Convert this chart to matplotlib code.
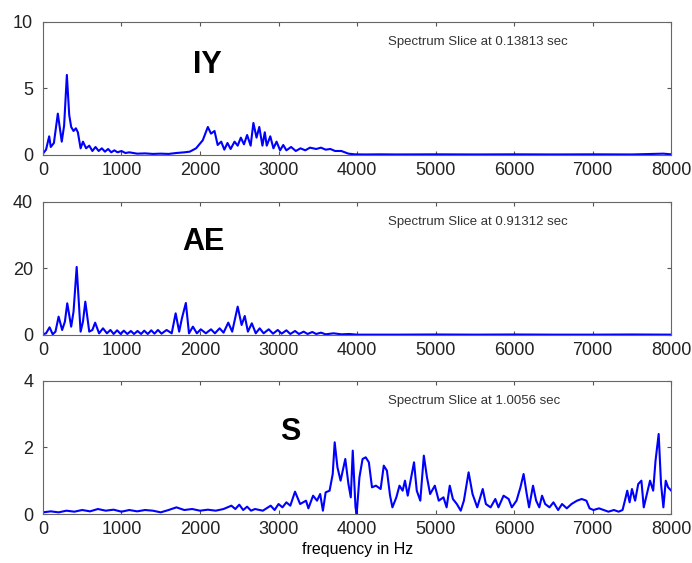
import matplotlib.pyplot as plt

plt.rcParams['font.family'] = ['Liberation Sans', 'DejaVu Sans']

# --- IY slice (0.13813 sec) ---
iy_freq = [0, 40, 80, 100, 140, 190, 240, 270, 305, 335, 360, 390, 420, 445, 480,
           510, 550, 590, 630, 670, 710, 750, 790, 830, 870, 910, 950, 1000, 1050,
           1100, 1200, 1300, 1400, 1500, 1600, 1700, 1800, 1870, 1950, 2035, 2100,
           2140, 2185, 2225, 2270, 2310, 2350, 2390, 2440, 2480, 2520, 2560, 2600,
           2645, 2680, 2720, 2755, 2795, 2825, 2850, 2895, 2935, 2975, 3020, 3060,
           3100, 3160, 3220, 3280, 3340, 3400, 3480, 3540, 3600, 3660, 3720, 3800,
           3890, 3970, 4100, 4300, 4500, 5000, 5500, 6000, 6500, 7000, 7500, 7900, 8000]
iy_amp = [0.1, 0.4, 1.4, 0.6, 0.9, 3.1, 1.0, 2.2, 6.0, 3.0, 2.1, 1.8, 2.0, 1.7, 0.5,
          1.0, 0.5, 0.7, 0.3, 0.6, 0.3, 0.5, 0.25, 0.45, 0.2, 0.35, 0.2, 0.3, 0.15,
          0.2, 0.1, 0.12, 0.08, 0.1, 0.08, 0.15, 0.2, 0.25, 0.5, 1.1, 2.1,
          1.6, 1.8, 0.75, 1.0, 0.4, 0.9, 0.45, 1.0, 0.7, 1.3, 0.8, 1.5,
          0.7, 2.4, 1.3, 2.1, 0.7, 1.7, 0.7, 1.4, 0.5, 1.0, 0.35, 0.75,
          0.35, 0.6, 0.3, 0.5, 0.35, 0.55, 0.45, 0.55, 0.4, 0.45, 0.3, 0.3,
          0.1, 0.05, 0.04, 0.05, 0.04, 0.05, 0.04, 0.05, 0.04, 0.05, 0.04, 0.1, 0.05]

# --- AE slice (0.91312 sec) ---
ae_freq = [0, 40, 85, 125, 160, 200, 245, 280, 310, 360, 390, 430, 480, 510, 540,
           590, 630, 665, 715, 765, 815, 860, 900, 945, 990, 1030, 1075, 1120, 1160,
           1205, 1250, 1290, 1335, 1380, 1420, 1465, 1510, 1575, 1640, 1690, 1735,
           1770, 1820, 1860, 1910, 1960, 2010, 2075, 2140, 2190, 2250, 2300, 2360,
           2410, 2480, 2530, 2570, 2610, 2660, 2710, 2760, 2810, 2875, 2930, 2990,
           3040, 3100, 3150, 3210, 3260, 3320, 3370, 3430, 3480, 3540, 3600, 3700,
           3800, 3900, 4000, 4500, 5000, 5500, 6000, 6500, 7000, 7500, 8000]
ae_amp = [0.2, 0.5, 2.3, 0.2, 1.0, 5.5, 1.5, 4.0, 9.5, 2.5, 7.0, 20.4, 1.0, 4.0, 10.0,
          1.0, 1.5, 3.7, 0.5, 2.0, 0.5, 1.5, 0.3, 1.4, 0.3, 1.3, 0.3, 1.2, 0.3,
          1.2, 0.3, 1.3, 0.3, 1.4, 0.4, 1.5, 0.4, 1.5, 0.5, 6.5, 1.0,
          5.0, 9.6, 0.5, 2.5, 0.5, 1.7, 0.5, 1.7, 0.5, 2.0, 0.7, 3.7,
          1.0, 8.5, 3.0, 5.7, 1.0, 3.5, 0.5, 2.0, 0.5, 1.7, 0.4, 1.5,
          0.4, 1.4, 0.3, 1.2, 0.3, 1.0, 0.3, 0.9, 0.3, 0.7, 0.2, 0.5,
          0.2, 0.3, 0.1, 0.1, 0.15, 0.1, 0.15, 0.1, 0.1, 0.15, 0.1]

# --- S slice (1.0056 sec) ---
s_freq = [0, 100, 200, 300, 400, 500, 600, 700, 800, 900, 1000, 1100, 1200, 1300,
          1400, 1500, 1600, 1700, 1800, 1900, 2000, 2100, 2200, 2300, 2400, 2450,
          2500, 2550, 2600, 2650, 2700, 2800, 2900, 2950, 3000, 3050, 3100, 3150,
          3210, 3275, 3350, 3380, 3440, 3490, 3530, 3565, 3600, 3650, 3690, 3715,
          3750, 3790, 3850, 3890, 3920, 3945, 3980, 3995, 4030, 4070, 4110, 4150,
          4190, 4240, 4300, 4340, 4380, 4420, 4450, 4500, 4540, 4580, 4610, 4645,
          4725, 4760, 4805, 4850, 4890, 4930, 4990, 5040, 5100, 5140, 5180, 5220,
          5270, 5320, 5360, 5420, 5470, 5530, 5600, 5640, 5700, 5760, 5800, 5865,
          5930, 5970, 6030, 6080, 6120, 6160, 6190, 6240, 6280, 6320, 6355, 6395,
          6450, 6500, 6560, 6610, 6670, 6730, 6800, 6860, 6920, 6960, 7010, 7080,
          7140, 7200, 7270, 7330, 7380, 7410, 7440, 7470, 7500, 7540, 7580, 7620,
          7650, 7690, 7730, 7770, 7800, 7840, 7870, 7900, 7930, 7960, 8000]
s_amp = [0.05, 0.08, 0.05, 0.1, 0.07, 0.12, 0.08, 0.15, 0.1, 0.13, 0.07, 0.12, 0.08, 0.12,
         0.1, 0.05, 0.12, 0.2, 0.12, 0.15, 0.1, 0.13, 0.1, 0.15, 0.25, 0.15,
         0.28, 0.12, 0.22, 0.1, 0.15, 0.1, 0.25, 0.12, 0.3, 0.2, 0.35, 0.25,
         0.67, 0.3, 0.4, 0.17, 0.55, 0.4, 0.6, 0.1, 0.65, 0.7, 1.2, 2.15,
         1.4, 1.0, 1.65, 0.9, 0.5, 1.9, 0.2, 0.0, 1.1, 1.65, 1.7, 1.55,
         0.8, 0.85, 0.75, 1.45, 1.3, 0.55, 0.2, 0.5, 0.85, 0.7, 1.0, 0.55,
         1.55, 0.7, 0.4, 1.75, 1.1, 0.6, 0.85, 0.4, 0.5, 0.2, 0.85, 0.45,
         0.3, 0.1, 0.4, 1.25, 0.6, 0.2, 0.75, 0.3, 0.2, 0.45, 0.2, 0.55,
         0.45, 0.2, 0.4, 0.8, 1.2, 0.6, 0.2, 0.85, 0.4, 0.2, 0.55, 0.3,
         0.2, 0.35, 0.12, 0.3, 0.17, 0.3, 0.4, 0.45, 0.4, 0.17, 0.12, 0.17,
         0.12, 0.07, 0.12, 0.07, 0.12, 0.4, 0.7, 0.35, 0.75, 0.4, 0.9, 1.0,
         0.2, 0.6, 1.0, 0.7, 1.6, 2.4, 0.9, 0.2, 1.0, 0.8, 0.7]

panels = [
    (iy_freq, iy_amp, 10, [0, 5, 10], 'IY', 'Spectrum Slice at 0.13813 sec', (0.261, 0.677)),
    (ae_freq, ae_amp, 40, [0, 20, 40], 'AE', 'Spectrum Slice at 0.91312 sec', (0.255, 0.694)),
    (s_freq, s_amp, 4, [0, 2, 4], 'S', 'Spectrum Slice at 1.0056 sec', (0.393, 0.612)),
]
bottoms = [0.7247, 0.405, 0.087]

fig = plt.figure(figsize=(6.92, 5.63), dpi=100)
for (fq, amp, ymax, yt, big, note, bigpos), b in zip(panels, bottoms):
    ax = fig.add_axes([0.062, b, 0.908, 0.237])
    ax.plot(fq, amp, color='#0000ff', lw=1.5)
    ax.set_xlim(0, 8000)
    ax.set_ylim(0, ymax)
    ax.set_xticks(range(0, 8001, 1000))
    ax.set_yticks(yt)
    ax.tick_params(direction='in', length=3, top=True, right=True,
                   labelsize=13, colors='#555555', labelcolor='#222222')
    ax.tick_params(axis='x', pad=5)
    ax.tick_params(axis='y', pad=7)
    for sp in ax.spines.values():
        sp.set_color('#666666')
    ax.text(bigpos[0], bigpos[1], big, transform=ax.transAxes, fontsize=22,
            fontweight='bold', ha='center', va='center')
    ax.text(0.55, 0.85, note, transform=ax.transAxes, fontsize=9.5,
            ha='left', va='center', color='#333333')
    if big == 'S':
        ax.set_xlabel('frequency in Hz', fontsize=11.5, labelpad=3)

fig.savefig('out.png', dpi=100)
